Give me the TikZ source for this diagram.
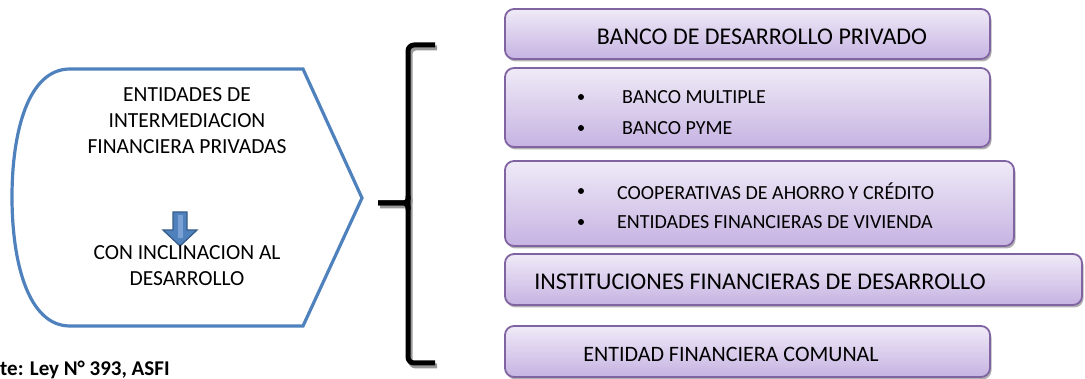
\documentclass[tikz,border=0pt]{standalone}
\usepackage{fontspec}
\setmainfont{Carlito}
\usetikzlibrary{shadows}
\definecolor{blueline}{HTML}{4F81BD}
\definecolor{bluedark}{HTML}{385D8A}
\definecolor{bluelight}{HTML}{7BA0D4}
\definecolor{purpleline}{HTML}{8064A2}
\definecolor{boxtop}{HTML}{EFEAF7}
\definecolor{boxbot}{HTML}{C6B3E2}
\tikzset{
  pbox/.style={draw=purpleline, line width=1.8pt, rounded corners=9pt,
    top color=boxtop, bottom color=boxbot, inner sep=0pt,
    drop shadow={shadow xshift=1.5pt, shadow yshift=-2.5pt, fill=black!60, opacity=0.5}},
  bigtxt/.style={font=\fontsize{24}{28}\selectfont, inner sep=0pt},
  midtxt/.style={font=\fontsize{22}{26}\selectfont, inner sep=0pt},
  smalltxt/.style={font=\fontsize{20}{25}\selectfont, inner sep=0pt},
  lefttxt/.style={font=\fontsize{21.5}{26}\selectfont, inner sep=0pt, align=center},
  bul/.style={circle, fill=black, inner sep=0pt, minimum size=6pt},
  brack/.style={line width=5pt, line cap=butt, line join=round, rounded corners=6pt},
}
\begin{document}
\begin{tikzpicture}[x=1pt, y=-1pt]
\useasboundingbox (0,0) rectangle (1085,379);

% left shape
\draw[blueline, line width=3.2pt, line join=miter]
  (70,69) -- (303,69) -- (362,198) -- (303,326) -- (70,326)
  .. controls (28,326) and (12,262) .. (12,197)
  .. controls (12,132) and (28,69) .. (70,69) -- cycle;

% down arrow
\draw[bluedark, fill=blueline, line width=1.3pt, line join=miter]
  (173,212) -- (187,212) -- (187,230) -- (197,230) -- (180,246) -- (163,230) -- (173,230) -- cycle;
\fill[bluelight] (177.5,215) rectangle (182.5,238);

\node[lefttxt] (t1) at (187,95) {ENTIDADES DE};
\node[lefttxt] (t2) at (187,121) {INTERMEDIACION};
\node[lefttxt] (t3) at (187,147) {FINANCIERA PRIVADAS};
\node[lefttxt] (t4) at (187,253) {CON INCLINACION AL};
\node[lefttxt] (t5) at (187,279) {DESARROLLO};

% bracket with shadow
\begin{scope}[shift={(2,3)}]
\draw[brack, black!40] (435,45) -- (408,45) -- (408,363) -- (435,363);
\draw[brack, black!40, rounded corners=4pt] (378,203) -- (408,203) -- (408,196);
\end{scope}
\draw[brack] (435,45) -- (408,45) -- (408,363) -- (435,363);
\draw[brack, rounded corners=4pt] (378,203) -- (408,203) -- (408,196);
\draw[brack, rounded corners=4pt] (378,203) -- (408,203) -- (408,210);

% right boxes
\node[pbox, minimum width=485pt, minimum height=50pt] (b1) at (747.5,34) {};
\node[pbox, minimum width=485pt, minimum height=79pt] (b2) at (747.5,107.5) {};
\node[pbox, minimum width=509pt, minimum height=85pt] (b3) at (759.5,203.5) {};
\node[pbox, minimum width=577pt, minimum height=51pt] (b4) at (793.5,279.5) {};
\node[pbox, minimum width=485pt, minimum height=51pt] (b5) at (747.5,351.5) {};

\node[bigtxt] (l1) at (762,37) {BANCO DE DESARROLLO PRIVADO};

\node[bul] (d1) at (581,97) {};
\node[smalltxt, anchor=west] (s1) at (622,97) {BANCO MULTIPLE};
\node[bul] (d2) at (581,128) {};
\node[smalltxt, anchor=west] (s2) at (622,128) {BANCO PYME};

\node[bul] (d3) at (581,191) {};
\node[smalltxt, anchor=west] (s3) at (617,191) {COOPERATIVAS DE AHORRO Y CRÉDITO};
\node[bul] (d4) at (581,222) {};
\node[smalltxt, anchor=west] (s4) at (617,222) {ENTIDADES FINANCIERAS DE VIVIENDA};

\node[bigtxt] (l4) at (760,282) {INSTITUCIONES FINANCIERAS DE DESARROLLO};
\node[midtxt] (l5) at (731,354) {ENTIDAD FINANCIERA COMUNAL};

% source note (cut at picture edges, as in the reference)
\node[font=\fontsize{21}{25}\selectfont\bfseries, anchor=base west, inner sep=0pt] (src) at (0,376) {te: Ley N° 393, ASFI};
\end{tikzpicture}
\end{document}
